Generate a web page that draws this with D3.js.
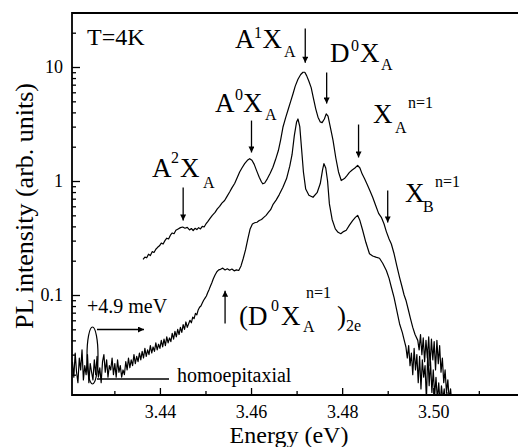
<!DOCTYPE html>
<html>
<head>
<meta charset="utf-8">
<script src="https://cdn.jsdelivr.net/npm/d3@7"></script>
<style>
  body { margin: 0; background: #fff; }
  svg { display: block; }
  svg text { font-family: "Liberation Serif", Tinos, "Times New Roman", Times, "DejaVu Serif", serif !important; fill: #000; }
</style>
</head>
<body>
<script>
// upper spectrum (shifted +4.9 meV), [energy eV, PL intensity]
var shiftedSpectrum = [
  [3.4363,0.205],[3.4367,0.215],[3.4371,0.212],[3.4375,0.228],[3.4379,0.222],[3.4383,0.240],
  [3.4387,0.236],[3.4391,0.252],[3.4395,0.262],[3.4399,0.270],[3.4403,0.285],[3.4407,0.280],
  [3.4411,0.300],[3.4415,0.315],[3.4419,0.310],[3.4423,0.335],[3.4427,0.350],[3.4431,0.345],
  [3.4435,0.370],[3.4440,0.380],[3.4445,0.390],[3.4450,0.395],[3.4455,0.385],[3.4460,0.392],
  [3.4465,0.372],[3.4469,0.383],[3.4473,0.368],[3.4477,0.385],[3.4481,0.375],[3.4485,0.390],
  [3.4489,0.380],[3.4493,0.400],[3.4497,0.395],[3.4501,0.420],[3.4505,0.440],[3.4510,0.470],
  [3.4515,0.500],[3.4521,0.530],[3.4526,0.570],[3.4531,0.600],[3.4536,0.640],[3.4542,0.675],
  [3.4547,0.730],[3.4553,0.800],[3.4558,0.870],[3.4564,0.950],[3.4570,1.08],[3.4575,1.20],
  [3.4580,1.30],[3.4586,1.42],[3.4592,1.52],[3.4597,1.57],[3.4602,1.52],[3.4607,1.40],
  [3.4612,1.24],[3.4618,1.08],[3.4623,0.98],[3.4626,0.945],[3.4630,0.96],[3.4636,1.05],
  [3.4642,1.17],[3.4648,1.32],[3.4654,1.55],[3.4660,1.85],[3.4665,2.30],[3.4670,2.96],
  [3.4676,3.6],[3.4682,4.3],[3.4687,5.0],[3.4692,5.8],[3.4697,6.8],[3.4703,7.8],
  [3.4709,8.6],[3.4714,9.0],[3.4718,9.0],[3.4722,8.4],[3.4727,7.5],[3.4732,6.6],
  [3.4737,5.3],[3.4742,4.3],[3.4747,3.63],[3.4752,3.3],[3.4756,3.25],[3.4761,3.5],
  [3.4765,3.88],[3.4769,3.7],[3.4773,3.1],[3.4777,2.6],[3.4780,2.27],[3.4786,1.6],
  [3.4792,1.2],[3.4798,1.01],[3.4805,1.05],[3.4811,1.12],[3.4816,1.19],[3.4822,1.25],
  [3.4828,1.30],[3.4834,1.37],[3.4839,1.30],[3.4844,1.15],[3.4849,1.05],[3.4855,0.93],
  [3.4861,0.82],[3.4867,0.72],[3.4873,0.62],[3.4880,0.52],[3.4886,0.48],[3.4892,0.42],
  [3.4897,0.36],[3.4903,0.31],[3.4908,0.28],[3.4914,0.23],[3.4920,0.18],[3.4926,0.143],
  [3.4931,0.120],[3.4936,0.100],[3.4940,0.090],[3.4945,0.075],[3.4950,0.062],[3.4955,0.052],
  [3.4960,0.045],[3.4966,0.040],[3.4969,0.033],[3.4972,0.045],[3.4975,0.030],[3.4978,0.042],
  [3.4981,0.026],[3.4984,0.040],[3.4987,0.028],[3.4990,0.043],[3.4993,0.024],[3.4996,0.041],
  [3.4999,0.027],[3.5002,0.039],[3.5005,0.022],[3.5008,0.040],[3.5011,0.025],[3.5014,0.036],
  [3.5017,0.021],[3.5020,0.028],[3.5023,0.017],[3.5026,0.022],[3.5029,0.014],[3.5032,0.018],
  [3.5035,0.012],[3.5038,0.015],[3.5041,0.011],[3.5045,0.013],[3.5050,0.010]
];

// lower spectrum (homoepitaxial)
var homoSpectrum = [
  [3.4208,0.026],[3.4211,0.019],[3.4214,0.031],[3.4217,0.021],[3.4220,0.017],[3.4223,0.028],
  [3.4226,0.022],[3.4229,0.033],[3.4232,0.018],[3.4235,0.024],[3.4238,0.020],[3.4241,0.030],
  [3.4244,0.017],[3.4247,0.025],[3.4250,0.021],[3.4253,0.018],[3.4256,0.027],[3.4259,0.020],
  [3.4262,0.029],[3.4265,0.019],[3.4268,0.023],[3.4271,0.017],[3.4274,0.026],[3.4277,0.030],
  [3.4280,0.021],[3.4283,0.027],[3.4286,0.019],[3.4289,0.024],[3.4292,0.022],[3.4295,0.028],
  [3.4298,0.020],[3.4301,0.025],[3.4304,0.019],[3.4307,0.027],[3.4310,0.021],[3.4313,0.024],
  [3.4316,0.019],[3.4319,0.022],[3.4322,0.020],[3.4325,0.026],[3.4328,0.022],[3.4331,0.028],
  [3.4334,0.023],[3.4337,0.027],[3.4340,0.024],[3.4343,0.030],[3.4346,0.025],[3.4349,0.029],
  [3.4352,0.026],[3.4355,0.031],[3.4358,0.027],[3.4361,0.032],[3.4364,0.028],[3.4367,0.034],
  [3.4370,0.029],[3.4373,0.033],[3.4376,0.030],[3.4379,0.036],[3.4382,0.031],[3.4385,0.035],
  [3.4388,0.032],[3.4391,0.038],[3.4394,0.033],[3.4397,0.037],[3.4400,0.034],[3.4403,0.040],
  [3.4406,0.035],[3.4409,0.041],[3.4412,0.036],[3.4415,0.043],[3.4418,0.038],[3.4421,0.042],
  [3.4424,0.039],[3.4427,0.046],[3.4430,0.041],[3.4433,0.048],[3.4436,0.043],[3.4439,0.050],
  [3.4442,0.045],[3.4445,0.052],[3.4448,0.047],[3.4451,0.055],[3.4454,0.050],[3.4457,0.058],
  [3.4460,0.052],[3.4463,0.056],[3.4466,0.060],[3.4469,0.057],[3.4472,0.064],[3.4475,0.062],
  [3.4478,0.069],[3.4481,0.067],[3.4484,0.074],[3.4487,0.078],[3.4490,0.080],[3.4493,0.085],
  [3.4496,0.090],[3.4499,0.094],[3.4502,0.098],[3.4505,0.105],[3.4508,0.112],[3.4511,0.120],
  [3.4514,0.128],[3.4517,0.138],[3.4521,0.150],[3.4525,0.160],[3.4529,0.166],[3.4533,0.168],
  [3.4538,0.172],[3.4543,0.166],[3.4548,0.170],[3.4553,0.165],[3.4558,0.169],[3.4563,0.163],
  [3.4568,0.166],[3.4573,0.164],[3.4578,0.180],[3.4583,0.210],[3.4588,0.250],[3.4593,0.310],
  [3.4598,0.380],[3.4603,0.420],[3.4608,0.430],[3.4613,0.435],[3.4618,0.450],[3.4623,0.460],
  [3.4628,0.480],[3.4633,0.500],[3.4638,0.530],[3.4643,0.560],[3.4648,0.620],[3.4655,0.680],
  [3.4662,0.760],[3.4670,0.880],[3.4678,1.05],[3.4685,1.35],[3.4690,1.7],[3.4695,2.5],
  [3.4700,3.3],[3.4703,3.5],[3.4707,3.0],[3.4711,1.9],[3.4715,1.2],[3.4720,0.85],
  [3.4727,0.75],[3.4736,0.72],[3.4745,0.79],[3.4752,0.95],[3.4757,1.25],[3.4760,1.42],
  [3.4764,1.30],[3.4768,1.00],[3.4772,0.63],[3.4778,0.46],[3.4785,0.38],[3.4791,0.355],
  [3.4797,0.345],[3.4803,0.360],[3.4809,0.370],[3.4816,0.410],[3.4823,0.450],[3.4829,0.480],
  [3.4834,0.500],[3.4839,0.450],[3.4845,0.370],[3.4852,0.290],[3.4860,0.230],[3.4867,0.220],
  [3.4874,0.215],[3.4882,0.210],[3.4889,0.190],[3.4897,0.164],[3.4903,0.140],[3.4908,0.117],
  [3.4914,0.095],[3.4920,0.073],[3.4926,0.056],[3.4932,0.047],[3.4937,0.039],[3.4940,0.035],
  [3.4943,0.028],[3.4946,0.036],[3.4949,0.024],[3.4952,0.031],[3.4955,0.020],[3.4958,0.034],
  [3.4961,0.022],[3.4964,0.030],[3.4967,0.017],[3.4970,0.029],[3.4973,0.015],[3.4976,0.027],
  [3.4979,0.019],[3.4982,0.024],[3.4985,0.012],[3.4988,0.032],[3.4991,0.016],[3.4994,0.026],
  [3.4997,0.014],[3.5000,0.022],[3.5003,0.013],[3.5006,0.019],[3.5009,0.012],[3.5012,0.017],
  [3.5015,0.011],[3.5018,0.016],[3.5021,0.012],[3.5024,0.015],[3.5027,0.011],[3.5030,0.014],
  [3.5033,0.010],[3.5036,0.013],[3.5040,0.010]
];

var xTicks = [3.44, 3.46, 3.48, 3.50],
    xMinorTicks = [3.43, 3.45, 3.47, 3.49, 3.51],
    yTicks = [0.1, 1, 10],
    yTickLabels = ["0.1", "1", "10"];

// peak markers: [energy, arrow tail intensity, arrow tip intensity]
var peakArrows = [
  [3.4719, 21.8, 10.9],   // A1XA
  [3.4766, 8.95, 4.78],   // D0XA
  [3.4601, 3.39, 1.78],   // A0XA
  [3.4836, 3.13, 1.61],   // XA n=1
  [3.4900, 0.826, 0.433], // XB n=1
  [3.4451, 0.877, 0.450], // A2XA
  [3.4543, 0.0562, 0.109] // (D0XA n=1)2e, pointing up
];

// label pieces: [text, x, y, size]
var labelPieces = [
  ["T=4K", 87, 45, 24],
  ["A", 235, 48, 27], ["1", 254, 38, 16], ["X", 262.5, 48, 27], ["A", 284, 57, 16],
  ["D", 330, 62, 27], ["0", 351, 51, 16], ["X", 360, 62, 27], ["A", 381, 70, 16],
  ["A", 215, 112, 27], ["0", 235, 100, 16], ["X", 243, 112, 27], ["A", 265, 120, 16],
  ["A", 152, 177, 27], ["2", 171, 163, 16], ["X", 180, 177, 27], ["A", 203, 188, 16],
  ["X", 373, 123, 27], ["A", 395, 133, 16], ["n=1", 408, 108, 16],
  ["X", 405, 202, 27], ["B", 423, 212, 16], ["n=1", 435, 187, 16],
  ["(", 239, 325, 27], ["D", 248, 325, 27], ["0", 271, 311, 16], ["X", 281, 325, 27],
  ["A", 303, 332, 16], ["n=1", 306, 298, 16], [")", 337, 325, 27], ["2e", 346, 331, 16],
  ["+4.9 meV", 87, 313, 20],
  ["homoepitaxial", 177, 382, 20]
];

var width = 518, height = 447,
    margin = {top: 13, right: 0, bottom: 52, left: 72};

var svg = d3.select("body").append("svg")
    .attr("width", width)
    .attr("height", height)
    .attr("font-family", "Liberation Serif, serif");

var x = d3.scaleLinear()
    .domain([3.4207, 3.5186])
    .range([margin.left, width - margin.right]);

var y = d3.scaleLog()
    .domain([0.01327, 29.77])
    .range([height - margin.bottom, margin.top]);

var defs = svg.append("defs");

defs.append("clipPath").attr("id", "plotclip")
  .append("rect")
    .attr("x", margin.left)
    .attr("y", margin.top)
    .attr("width", width - margin.left - margin.right)
    .attr("height", height - margin.top - margin.bottom);

defs.append("marker")
    .attr("id", "head")
    .attr("viewBox", "0 0 10 10")
    .attr("refX", 10).attr("refY", 5)
    .attr("markerWidth", 7).attr("markerHeight", 6)
    .attr("markerUnits", "userSpaceOnUse")
    .attr("orient", "auto")
  .append("path")
    .attr("d", "M0,0L10,5L0,10z")
    .attr("fill", "#000");

// minor log ticks
var yMinor = [];
[0.01, 0.1, 1, 10].forEach(function(dec) {
  for (var k = 2; k <= 9; k++) {
    var v = dec * k;
    if (v > y.domain()[0] && v < y.domain()[1]) yMinor.push(v);
  }
});

svg.append("g")
    .attr("transform", "translate(" + margin.left + ",0)")
    .call(d3.axisLeft(y).tickValues(yMinor).tickSize(-4).tickFormat(""))
    .call(function(g) { g.select(".domain").remove(); });

svg.append("g")
    .attr("transform", "translate(" + margin.left + ",0)")
    .call(d3.axisLeft(y).tickValues(yTicks).tickSize(-8).tickPadding(9)
      .tickFormat(function(d, i) { return yTickLabels[i]; }))
    .call(function(g) { g.select(".domain").remove(); })
    .selectAll("text")
      .style("font-size", "18px");

var xAxisY = height - margin.bottom;

svg.append("g")
    .attr("transform", "translate(0," + xAxisY + ")")
    .call(d3.axisBottom(x).tickValues(xMinorTicks).tickSize(-4).tickFormat(""))
    .call(function(g) { g.select(".domain").remove(); });

svg.append("g")
    .attr("transform", "translate(0," + xAxisY + ")")
    .call(d3.axisBottom(x).tickValues(xTicks).tickSize(-7).tickPadding(10)
      .tickFormat(d3.format(".2f")))
    .call(function(g) { g.select(".domain").remove(); })
    .selectAll("text")
      .style("font-size", "18px");

svg.selectAll("g").attr("font-family", null);
svg.selectAll(".tick line").attr("stroke", "#000").attr("stroke-width", 1.3);

// frame (left, top, bottom; right side falls outside the picture)
svg.append("path")
    .attr("d", "M" + width + "," + margin.top + "H" + margin.left + "V" + xAxisY + "H" + width)
    .attr("fill", "none")
    .attr("stroke", "#000")
    .attr("stroke-width", 1.8);

var line = d3.line()
    .x(function(d) { return x(d[0]); })
    .y(function(d) { return y(Math.max(d[1], 0.005)); });

var curves = svg.append("g").attr("clip-path", "url(#plotclip)");

[shiftedSpectrum, homoSpectrum].forEach(function(s) {
  curves.append("path")
      .datum(s)
      .attr("fill", "none")
      .attr("stroke", "#000")
      .attr("stroke-width", 1.2)
      .attr("stroke-linejoin", "round")
      .attr("d", line);
});

// peak arrows
svg.selectAll(".peak-arrow")
  .data(peakArrows)
  .enter().append("line")
    .attr("class", "peak-arrow")
    .attr("x1", function(d) { return x(d[0]); })
    .attr("x2", function(d) { return x(d[0]); })
    .attr("y1", function(d) { return y(d[1]); })
    .attr("y2", function(d) { return y(d[2]); })
    .attr("stroke", "#000")
    .attr("stroke-width", 1.3)
    .attr("marker-end", "url(#head)");

// +4.9 meV shift marker and homoepitaxial pointer
svg.append("ellipse")
    .attr("cx", 92.5).attr("cy", 355.5)
    .attr("rx", 5.5).attr("ry", 28.5)
    .attr("fill", "none")
    .attr("stroke", "#000")
    .attr("stroke-width", 1.2);

svg.append("line")
    .attr("x1", 97).attr("x2", 144)
    .attr("y1", 329.5).attr("y2", 329.5)
    .attr("stroke", "#000")
    .attr("stroke-width", 1.3)
    .attr("marker-end", "url(#head)");

svg.append("line")
    .attr("x1", 97).attr("x2", 169)
    .attr("y1", 379).attr("y2", 379)
    .attr("stroke", "#000")
    .attr("stroke-width", 1.3);

svg.selectAll(".lbl")
  .data(labelPieces)
  .enter().append("text")
    .attr("class", "lbl")
    .attr("x", function(d) { return d[1]; })
    .attr("y", function(d) { return d[2]; })
    .style("font-size", function(d) { return d[3] + "px"; })
    .text(function(d) { return d[0]; });

// axis titles
svg.append("text")
    .attr("x", 289)
    .attr("y", 443)
    .attr("text-anchor", "middle")
    .style("font-size", "24px")
    .text("Energy (eV)");

svg.append("text")
    .attr("transform", "translate(33,206)rotate(-90)")
    .attr("text-anchor", "middle")
    .style("font-size", "26px")
    .text("PL intensity (arb. units)");
</script>
</body>
</html>
